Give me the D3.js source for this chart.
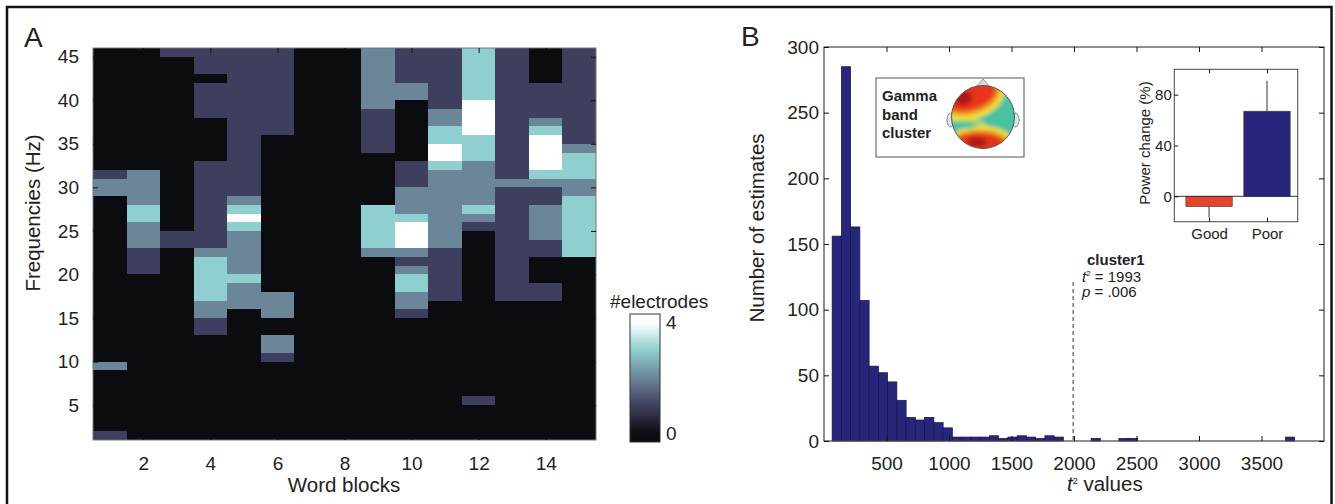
<!DOCTYPE html>
<html><head><meta charset="utf-8">
<script src="https://cdn.jsdelivr.net/npm/d3@7"></script>
<style>
body{margin:0;background:#fff;}
svg{display:block;font-family:"Liberation Sans",Arial,Helvetica,sans-serif;}
</style></head><body>
<svg id="chart" width="1335" height="504"></svg>
<script>
// ---------------- Panel A data ----------------
const wordBlocks = [1,2,3,4,5,6,7,8,9,10,11,12,13,14,15];
// frequency rows from top (45 Hz) to bottom (1 Hz); each row spans [f, f+1]
const freqRows = [45,44,43,42,41,40,39,38,37,36,35,34,33,32,31,30,29,28,27,26,25,24,23,22,21,20,19,18,17,16,15,14,13,12,11,10,9,8,7,6,5,4,3,2,1];
// number of electrodes per word block (one string per block, one digit per frequency row, top row first)
const electrodeCounts = [
  "000000000000001220000000000000000000200000001",
  "000000000000002222332221110000000000000000000",
  "100000000000000000000110000000000000000000000",
  "111011110000011111111112333332211000000000000",
  "111111111111111112343222223222000000000000000",
  "111111111100000000000000000022200221000000000",
  "000000000000000000000000000000000000000000000",
  "000000000000000000000000000000000000000000000",
  "222222211111000000333332000000000000000000000",
  "111122000000011122234442123322100000000000000",
  "111111122334432222222221111110000000000000000",
  "333333444433322222321000000000000000000010000",
  "111111111111111211111111111110000000000000000",
  "000011112344443211222211000110000000000000000",
  "111111111112333223333333000000000000000000000"
];
const xTicksA = [2,4,6,8,10,12,14];
const yTicksA = [5,10,15,20,25,30,35,40,45];
const colorbarTicks = [0,4];
const colorValues = [0,1,2,3,4];
const colorHex = ["#0b0c10","#3e3f5f","#6b8699","#90cfcf","#ffffff"];

// ---------------- Panel B data ----------------
const histBinStart = 65, histBinWidth = 74;
const histCounts = [156,285,163,107,57,52,45,31,18,16,18,14,10,3,3,3,3,4,2,3,
                    4,3,2,4,3,0,0,0,2,0,0,2,2,0,0,0,0,0,0,0,
                    0,0,0,0,0,0,0,0,0,3];
const xTicksB = [500,1000,1500,2000,2500,3000,3500];
const yTicksB = [0,50,100,150,200,250,300];
const clusterT2 = 1993;
const clusterP = ".006";
const insetGroups = ["Good","Poor"];
const insetMeans = [-8, 67];
const insetErrors = [8.5, 24];
const insetColors = ["#e8432e","#27267c"];
const insetTicks = [0,40,80];

// ---------------- drawing ----------------
const TXT = "#222";
const fmt = d3.format("d");
const svg = d3.select("#chart");
const defs = svg.append("defs");

// outer frame
svg.append("path").attr("d","M7,506V7H1331.5V506").attr("fill","none")
  .attr("stroke","#111").attr("stroke-width",2.5);

// ===== Panel A =====
const xA = d3.scaleLinear().domain([0.5,15.5]).range([93,596]);
const yA = d3.scaleLinear().domain([1,46]).range([440,48]);
const colorA = d3.scaleLinear().domain(colorValues).range(colorHex).clamp(true);

defs.append("clipPath").attr("id","clipA").append("rect")
  .attr("x",93).attr("y",48).attr("width",503).attr("height",392);

const cells = [];
electrodeCounts.forEach((col,i)=>{
  for (let r=0;r<col.length;r++) cells.push({block:wordBlocks[i], freq:freqRows[r], v:+col[r]});
});
const gA = svg.append("g");
gA.append("g").attr("clip-path","url(#clipA)").attr("shape-rendering","crispEdges")
  .selectAll("rect").data(cells).join("rect")
  .attr("x",d=>xA(d.block-0.5)).attr("width",d=>xA(d.block+0.5)-xA(d.block-0.5)+1)
  .attr("y",d=>yA(d.freq+1)).attr("height",d=>yA(d.freq)-yA(d.freq+1)+1)
  .attr("fill",d=>colorA(d.v));
gA.append("rect").attr("x",93).attr("y",48).attr("width",503).attr("height",392)
  .attr("fill","none").attr("stroke","#777").attr("stroke-width",1);

function styleAxis(g, fs){
  g.select(".domain").remove();
  g.selectAll(".tick line").attr("stroke","#111");
  g.selectAll(".tick text").attr("fill",TXT).style("font-size",fs+"px").style("font-family","Liberation Sans, Arial, sans-serif");
}
gA.append("g").attr("transform","translate(0,440)")
  .call(d3.axisBottom(xA).tickValues(xTicksA).tickFormat(fmt).tickSizeInner(-5).tickSizeOuter(0).tickPadding(16.5))
  .call(g=>styleAxis(g,19));
gA.append("g").attr("transform","translate(0,48)")
  .call(d3.axisTop(xA).tickValues(xTicksA).tickSizeInner(-5).tickSizeOuter(0).tickFormat(""))
  .call(g=>styleAxis(g,19));
gA.append("g").attr("transform","translate(93,0)")
  .call(d3.axisLeft(yA).tickValues(yTicksA).tickFormat(fmt).tickSizeInner(-5).tickSizeOuter(0).tickPadding(14))
  .call(g=>styleAxis(g,19));
gA.append("g").attr("transform","translate(596,0)")
  .call(d3.axisRight(yA).tickValues(yTicksA).tickSizeInner(-5).tickSizeOuter(0).tickFormat(""))
  .call(g=>styleAxis(g,19));

gA.append("text").attr("x",344).attr("y",491.5).attr("text-anchor","middle")
  .attr("fill",TXT).style("font-size","20.5px").text("Word blocks");
gA.append("text").attr("transform","translate(40,213) rotate(-90)").attr("text-anchor","middle")
  .attr("fill",TXT).style("font-size","20.5px").text("Frequencies (Hz)");
svg.append("text").attr("x",24).attr("y",47).attr("fill",TXT).style("font-size","28px").text("A");

// colorbar
const cbScale = d3.scaleLinear().domain([-0.3,4.3]).range([442,314]);
const grad = defs.append("linearGradient").attr("id","cbGrad")
  .attr("x1",0).attr("y1",1).attr("x2",0).attr("y2",0);
d3.range(0,1.0001,0.04).forEach(t=>{
  const v = cbScale.domain()[0] + t*(cbScale.domain()[1]-cbScale.domain()[0]);
  grad.append("stop").attr("offset",t).attr("stop-color",colorA(v));
});
gA.append("rect").attr("x",630).attr("y",cbScale(4.3)).attr("width",30)
  .attr("height",cbScale(-0.3)-cbScale(4.3)).attr("fill","url(#cbGrad)")
  .attr("stroke","#333").attr("stroke-width",1);
gA.selectAll("text.cbt").data(colorbarTicks).join("text").attr("class","cbt")
  .attr("x",666).attr("y",d=>cbScale(d)).attr("dy","0.35em").attr("fill",TXT)
  .style("font-size","19px").text(d=>d);
gA.append("text").attr("x",610).attr("y",308).attr("fill",TXT).style("font-size","19px").text("#electrodes");

// ===== Panel B =====
const xB = d3.scaleLinear().domain([0,4000]).range([824,1324]);
const yB = d3.scaleLinear().domain([0,300]).range([441,47]);
const gB = svg.append("g");
const bins = histCounts.map((c,i)=>({x0:histBinStart+i*histBinWidth, x1:histBinStart+(i+1)*histBinWidth, c}))
  .filter(d=>d.c>0);
gB.selectAll("rect.bar").data(bins).join("rect").attr("class","bar")
  .attr("x",d=>xB(d.x0)).attr("width",d=>xB(d.x1)-xB(d.x0))
  .attr("y",d=>yB(d.c)).attr("height",d=>yB(0)-yB(d.c))
  .attr("fill","#27267c").attr("stroke","#15153a").attr("stroke-width",0.7);
gB.append("rect").attr("x",824).attr("y",47).attr("width",500).attr("height",394)
  .attr("fill","none").attr("stroke","#444").attr("stroke-width",1.2);
gB.append("g").attr("transform","translate(0,441)")
  .call(d3.axisBottom(xB).tickValues(xTicksB).tickFormat(fmt).tickSizeInner(-5).tickSizeOuter(0).tickPadding(15.5))
  .call(g=>styleAxis(g,19));
gB.append("g").attr("transform","translate(0,47)")
  .call(d3.axisTop(xB).tickValues(xTicksB).tickSizeInner(-5).tickSizeOuter(0).tickFormat(""))
  .call(g=>styleAxis(g,19));
gB.append("g").attr("transform","translate(824,0)")
  .call(d3.axisLeft(yB).tickValues(yTicksB).tickFormat(fmt).tickSizeInner(-5).tickSizeOuter(0).tickPadding(5))
  .call(g=>styleAxis(g,19));
gB.append("g").attr("transform","translate(1324,0)")
  .call(d3.axisRight(yB).tickValues(yTicksB).tickSizeInner(-5).tickSizeOuter(0).tickFormat(""))
  .call(g=>styleAxis(g,19));

gB.append("text").attr("transform","translate(764,228) rotate(-90)").attr("text-anchor","middle")
  .attr("fill",TXT).style("font-size","20.5px").text("Number of estimates");
const xl = gB.append("text").attr("x",1067).attr("y",491).attr("fill",TXT).style("font-size","20.5px");
xl.append("tspan").style("font-style","italic").text("t");
xl.append("tspan").attr("dy",-7).style("font-size","9px").text("2");
xl.append("tspan").attr("dy",7).text(" values");
svg.append("text").attr("x",741).attr("y",46).attr("fill",TXT).style("font-size","28px").text("B");

// cluster threshold
gB.append("line").attr("x1",xB(clusterT2)).attr("x2",xB(clusterT2)).attr("y1",282).attr("y2",yB(0))
  .attr("stroke","#333").attr("stroke-width",1).attr("stroke-dasharray","4,3");
gB.append("text").attr("x",1087).attr("y",265).attr("fill",TXT).style("font-size","15px")
  .style("font-weight","bold").text("cluster1");
const t2 = gB.append("text").attr("x",1082).attr("y",281.5).attr("fill",TXT).style("font-size","15px");
t2.append("tspan").style("font-style","italic").text("t");
t2.append("tspan").attr("dy",-6).style("font-size","8px").text("2");
t2.append("tspan").attr("dy",6).text(" = " + clusterT2);
const pt = gB.append("text").attr("x",1082).attr("y",297).attr("fill",TXT).style("font-size","15px");
pt.append("tspan").style("font-style","italic").text("p");
pt.append("tspan").text(" = " + clusterP);

// ----- topography inset -----
const gT = svg.append("g");
gT.append("rect").attr("x",876).attr("y",78).attr("width",148).attr("height",79)
  .attr("fill","#fff").attr("stroke","#555").attr("stroke-width",1);
["Gamma","band","cluster"].forEach((w,i)=>{
  gT.append("text").attr("x",882).attr("y",101+i*18.5).attr("fill",TXT)
    .style("font-size","15px").style("font-weight","bold").text(w);
});
const hc = gT.append("g").attr("transform","translate(983,117)");
hc.append("polygon").attr("points","-7,-30 0,-38 7,-30").attr("fill","#d8d8d8").attr("stroke","#999");
hc.append("ellipse").attr("cx",-32.5).attr("cy",3).attr("rx",3.5).attr("ry",7).attr("fill","#e4e4e4").attr("stroke","#888");
hc.append("ellipse").attr("cx",32.5).attr("cy",3).attr("rx",3.5).attr("ry",7).attr("fill","#e4e4e4").attr("stroke","#888");
defs.append("clipPath").attr("id","headClip").append("circle").attr("cx",0).attr("cy",0).attr("r",31.5);
const blur = defs.append("filter").attr("id","topoBlur").attr("x","-50%").attr("y","-50%").attr("width","200%").attr("height","200%");
blur.append("feGaussianBlur").attr("stdDeviation",2);
const hm = hc.append("g").attr("clip-path","url(#headClip)");
const hb = hm.append("g").attr("filter","url(#topoBlur)");
hb.append("rect").attr("x",-40).attr("y",-40).attr("width",80).attr("height",80).attr("fill","#46c2a2");
hb.append("ellipse").attr("cx",-12).attr("cy",-20).attr("rx",34).attr("ry",22).attr("transform","rotate(-15,-12,-20)").attr("fill","#f2e030");
hb.append("ellipse").attr("cx",-13).attr("cy",-21).attr("rx",30).attr("ry",18).attr("transform","rotate(-15,-13,-21)").attr("fill","#ec8a22");
hb.append("ellipse").attr("cx",-14).attr("cy",-22).attr("rx",27).attr("ry",15).attr("transform","rotate(-15,-14,-22)").attr("fill","#e6361c");
hb.append("ellipse").attr("cx",-20).attr("cy",-19).attr("rx",9).attr("ry",7).attr("fill","#b01612");
hb.append("ellipse").attr("cx",-2).attr("cy",26).attr("rx",33).attr("ry",17).attr("fill","#f2e030");
hb.append("ellipse").attr("cx",-3).attr("cy",27).attr("rx",29).attr("ry",14).attr("fill","#ec8a22");
hb.append("ellipse").attr("cx",-4).attr("cy",28).attr("rx",26).attr("ry",12).attr("fill","#e6361c");
hb.append("ellipse").attr("cx",-6).attr("cy",25).attr("rx",10).attr("ry",5).attr("fill","#b01612");
hb.append("ellipse").attr("cx",-20).attr("cy",8).attr("rx",13).attr("ry",4).attr("fill","#46c2a2");
hb.append("path").attr("d","M-32,3 Q-14,1 -6,4 Q6,12 18,16").attr("fill","none").attr("stroke","#f2e030").attr("stroke-width",2.5);
hc.append("circle").attr("r",31.5).attr("fill","none").attr("stroke","#555").attr("stroke-width",1);

// ----- power change inset -----
const xI = d3.scaleLinear().domain([0.4,2.53]).range([1174.3,1297.7]);
const yI = d3.scaleLinear().domain([-20,100]).range([221.7,69.3]);
const gI = svg.append("g");
gI.append("rect").attr("x",1174.3).attr("y",69.3).attr("width",123.4).attr("height",152.4)
  .attr("fill","#fff").attr("stroke","#444").attr("stroke-width",1);
const idata = insetGroups.map((g,i)=>({g, pos:i+1, m:insetMeans[i], e:insetErrors[i], c:insetColors[i]}));
gI.selectAll("line.err").data(idata).join("line").attr("class","err")
  .attr("x1",d=>xI(d.pos)).attr("x2",d=>xI(d.pos))
  .attr("y1",d=>yI(d.m)).attr("y2",d=>yI(d.m + Math.sign(d.m)*d.e))
  .attr("stroke","#333").attr("stroke-width",1);
gI.selectAll("rect.ib").data(idata).join("rect").attr("class","ib")
  .attr("x",d=>xI(d.pos-0.4)).attr("width",d=>xI(d.pos+0.4)-xI(d.pos-0.4))
  .attr("y",d=>yI(Math.max(0,d.m))).attr("height",d=>Math.abs(yI(d.m)-yI(0)))
  .attr("fill",d=>d.c).attr("stroke","#333").attr("stroke-width",0.6);
gI.append("line").attr("x1",1174.3).attr("x2",1297.7).attr("y1",yI(0)).attr("y2",yI(0))
  .attr("stroke","#333").attr("stroke-width",1);
gI.append("g").attr("transform","translate(0,221.7)")
  .call(d3.axisBottom(xI).tickValues([1,2]).tickFormat((d,i)=>insetGroups[i]).tickSizeInner(-4).tickSizeOuter(0).tickPadding(6.5))
  .call(g=>styleAxis(g,15));
gI.append("g").attr("transform","translate(0,69.3)")
  .call(d3.axisTop(xI).tickValues([1,2]).tickSizeInner(-4).tickSizeOuter(0).tickFormat(""))
  .call(g=>styleAxis(g,15));
gI.append("g").attr("transform","translate(1174.3,0)")
  .call(d3.axisLeft(yI).tickValues(insetTicks).tickFormat(fmt).tickSizeInner(-4).tickSizeOuter(0).tickPadding(2.5))
  .call(g=>styleAxis(g,15));
gI.append("text").attr("transform","translate(1150,143) rotate(-90)").attr("text-anchor","middle")
  .attr("fill",TXT).style("font-size","15px").text("Power change (%)");
</script>
</body></html>
